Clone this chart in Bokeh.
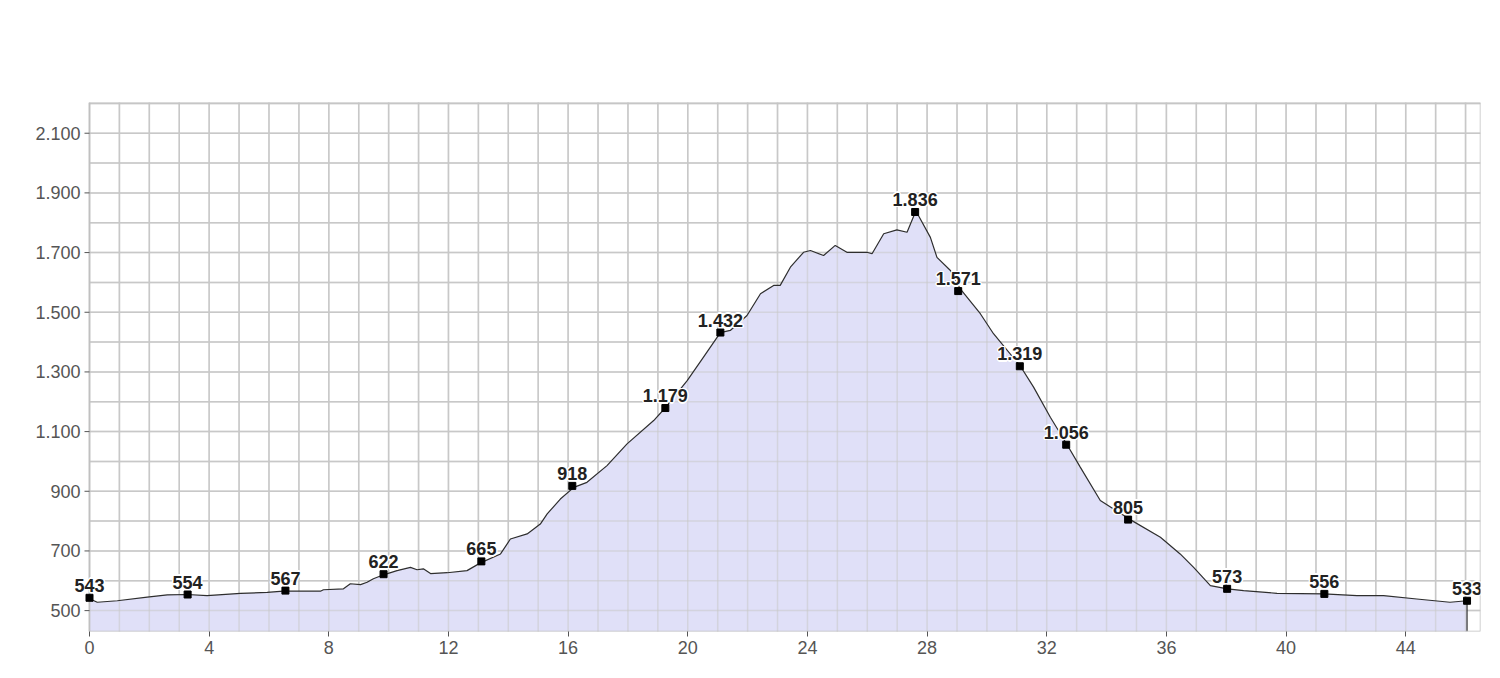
from bokeh.plotting import figure
from bokeh.models import FixedTicker, ColumnDataSource, Label
from bokeh.core.properties import value
from bokeh.embed import file_html
from bokeh.resources import INLINE

# elevation profile (km, m)
dist = [0.00, 0.26, 0.93, 1.93, 2.60, 3.27, 3.93, 5.05, 5.94, 6.48, 7.72, 7.82, 8.49, 8.72,
        9.06, 9.28, 9.49, 9.83, 10.28, 10.73, 10.95, 11.16, 11.40, 11.96, 12.62, 13.07,
        13.74, 14.07, 14.63, 15.07, 15.30, 15.74, 16.19, 16.63, 17.30, 17.97, 18.86, 19.25,
        19.98, 20.52, 20.98, 21.09, 21.42, 21.98, 22.43, 22.87, 23.09, 23.43, 23.87, 24.10,
        24.54, 24.93, 25.32, 25.99, 26.16, 26.55, 26.99, 27.33, 27.61, 27.71, 28.11, 28.33,
        28.78, 29.11, 29.78, 30.22, 31.12, 31.56, 32.12, 32.68, 33.12, 33.79, 34.79, 35.80,
        36.46, 36.91, 37.47, 38.04, 38.58, 39.70, 41.26, 42.37, 43.26, 44.37, 45.48, 46.05]
elev = [540, 528, 533, 545, 553, 554, 550, 558, 561, 565, 565, 570, 573, 590,
        587, 595, 607, 620, 634, 645, 637, 640, 624, 627, 634, 660,
        690, 740, 757, 790, 824, 874, 913, 930, 986, 1059, 1137, 1180,
        1271, 1349, 1416, 1432, 1439, 1489, 1562, 1590, 1590, 1651, 1701, 1707,
        1690, 1724, 1701, 1701, 1696, 1763, 1776, 1768, 1836, 1824, 1751, 1684,
        1640, 1578, 1495, 1428, 1319, 1249, 1148, 1056, 981, 869, 805, 746,
        690, 645, 584, 573, 567, 558, 556, 550, 550, 539, 528, 533]

# labelled waypoints
mark_km = [0.0, 3.28, 6.55, 9.83, 13.1, 16.14, 19.25, 21.09, 27.6, 29.04, 31.1, 32.65,
           34.72, 38.03, 41.28, 46.05]
mark_elev = [543, 554, 567, 622, 665, 918, 1179, 1432, 1836, 1571, 1319, 1056,
             805, 573, 556, 533]
mark_labels = ["543", "554", "567", "622", "665", "918", "1.179", "1.432", "1.836",
               "1.571", "1.319", "1.056", "805", "573", "556", "533"]

x_ticks = list(range(0, 45, 4))
y_ticks = list(range(500, 2101, 200))
y_tick_labels = ["500", "700", "900", "1.100", "1.300", "1.500", "1.700", "1.900", "2.100"]
x_grid = list(range(0, 47, 1))
y_grid = list(range(500, 2201, 100))

X0, X1 = 0.0, 46.5
Y0, Y1 = 430, 2203

# plot area of the chart spans 1391 px for X0..X1; the frame is widened to the left
# so that labels near the left edge and the y tick labels are not clipped
PLOT_W = 1391
PAD_L = 61
scale = PLOT_W / (X1 - X0)
xs = X0 - PAD_L / scale
tick_len = 5 / scale

p = figure(x_range=(xs, X1), y_range=(Y0, Y1), output_backend="svg",
           toolbar_location=None, frame_width=PLOT_W + PAD_L, frame_height=529,
           min_border_left=28, min_border_top=102, min_border_right=8,
           min_border_bottom=40, background_fill_color="white",
           border_fill_color="white")
p.outline_line_color = None
p.xgrid.visible = False
p.ygrid.visible = False
p.yaxis.visible = False

# x axis (bottom)
p.xaxis.ticker = FixedTicker(ticks=x_ticks)
p.xaxis.axis_line_color = None
p.xaxis.major_tick_line_color = "#555555"
p.xaxis.major_tick_out = 5
p.xaxis.major_tick_in = 0
p.xaxis.minor_tick_line_color = None
p.xaxis.major_label_text_font = "Liberation Sans"
p.xaxis.major_label_text_font_size = "18px"
p.xaxis.major_label_text_color = "#555555"
p.xaxis.major_label_standoff = 4

# grid
GRID = "#c8c8c8"
p.segment(x0=x_grid, y0=[Y0] * len(x_grid), x1=x_grid, y1=[Y1] * len(x_grid),
          line_color=GRID, line_width=1.5)
p.segment(x0=[X0] * len(y_grid), y0=y_grid, x1=[X1] * len(y_grid), y1=y_grid,
          line_color=GRID, line_width=1.5)

# profile
src = ColumnDataSource(dict(x=dist, y=elev))
p.varea(x="x", y1=Y0, y2="y", source=src, fill_color="#e0e0f8")
# redraw grid faintly over fill? (reference grid shows through the fill)
p.segment(x0=x_grid, y0=[Y0] * len(x_grid), x1=x_grid, y1=[Y1] * len(x_grid),
          line_color=GRID, line_width=1.5, line_alpha=0.55)
p.segment(x0=[X0] * len(y_grid), y0=y_grid, x1=[X1] * len(y_grid), y1=y_grid,
          line_color=GRID, line_width=1.5, line_alpha=0.55)
p.line(x="x", y="y", source=src, line_color="#2e2e2e", line_width=1.2)
p.segment(x0=[dist[-1]], y0=[elev[-1]], x1=[dist[-1]], y1=[Y0],
          line_color="#2e2e2e", line_width=1.2)

# plot border
p.quad(left=[X0], right=[X1], bottom=[Y0], top=[Y1], fill_color=None,
       line_color="#c0c0c0", line_width=1.5)

# y axis ticks and labels
p.segment(x0=[X0 - tick_len] * len(y_ticks), y0=y_ticks, x1=[X0] * len(y_ticks),
          y1=y_ticks, line_color="#555555", line_width=1)
ysrc = ColumnDataSource(dict(x=[X0] * len(y_ticks), y=y_ticks, t=y_tick_labels))
p.text(x="x", y="y", text="t", source=ysrc, text_align="right",
       text_baseline="middle", x_offset=-9, text_font=value("Liberation Sans"),
       text_font_size="18px", text_color="#555555")

# waypoint markers
msrc = ColumnDataSource(dict(x=mark_km, y=mark_elev, t=mark_labels))
p.scatter(x="x", y="y", source=msrc, marker="square", size=7,
          fill_color="black", line_color="black")

# labels with a white halo
offsets = [(-1.5, 0), (1.5, 0), (0, -1.5), (0, 1.5), (-1, -1), (1, 1), (-1, 1), (1, -1)]
for dx, dy in offsets:
    p.text(x="x", y="y", text="t", source=msrc, text_align="center",
           text_baseline="bottom", x_offset=dx, y_offset=-6 + dy,
           text_font=value("Liberation Sans"), text_font_size="18px",
           text_font_style="bold", text_color="white")
p.text(x="x", y="y", text="t", source=msrc, text_align="center",
       text_baseline="bottom", y_offset=-6,
       text_font=value("Liberation Sans"), text_font_size="18px",
       text_font_style="bold", text_color="#222222")

open("out.html", "w").write(file_html(p, INLINE))
